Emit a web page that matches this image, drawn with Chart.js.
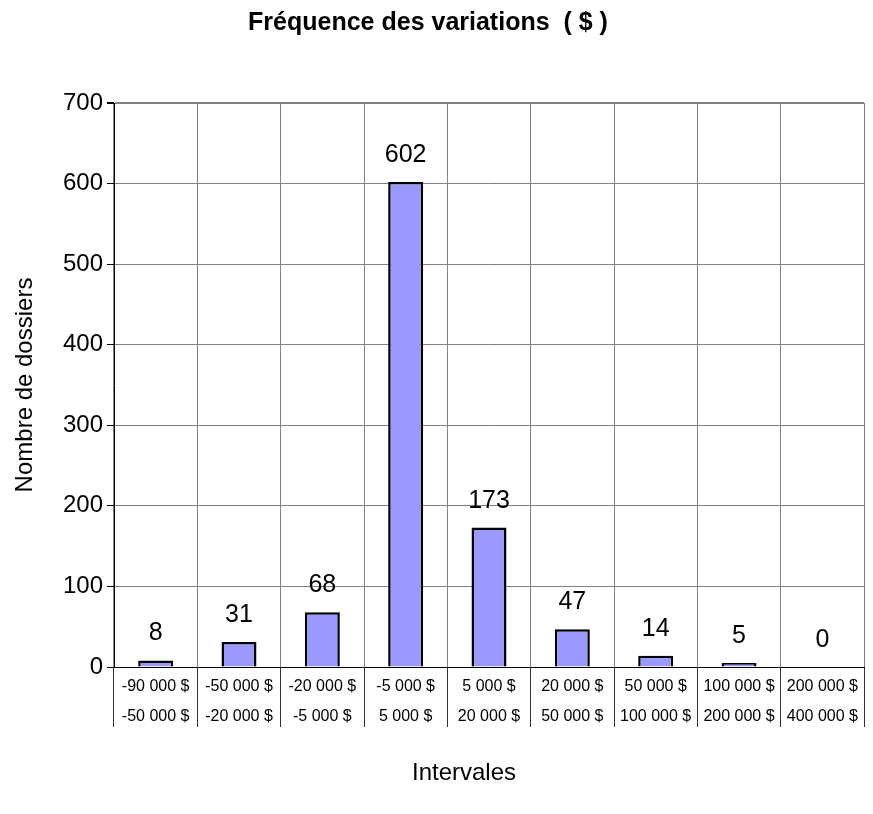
<!DOCTYPE html>
<html>
<head>
<meta charset="utf-8">
<script src="https://cdn.jsdelivr.net/npm/chart.js@4/dist/chart.umd.min.js"></script>
<style>
  html, body { margin: 0; padding: 0; background: #fff; }
  #wrap { width: 873px; height: 814px; }
</style>
</head>
<body>
<div id="wrap"><canvas id="myChart"></canvas></div>
<script>
// Intervalles (deux lignes par catégorie)
const intervalLow = ['-90 000 $', '-50 000 $', '-20 000 $', '-5 000 $', '5 000 $', '20 000 $', '50 000 $', '100 000 $', '200 000 $'];
const intervalHigh = ['-50 000 $', '-20 000 $', '-5 000 $', '5 000 $', '20 000 $', '50 000 $', '100 000 $', '200 000 $', '400 000 $'];
const nbDossiers = [8, 31, 68, 602, 173, 47, 14, 5, 0];
const yTicks = [0, 100, 200, 300, 400, 500, 600, 700];

const chartTitle = 'Fréquence des variations  ( $ )';
const yTitle = 'Nombre de dossiers';
const xTitle = 'Intervales';

const FONT = "'Liberation Sans', Arial, sans-serif";

const labels = intervalLow.map((lo, i) => [lo, intervalHigh[i]]);

// titres + valeurs au-dessus des barres
const extras = {
  id: 'extras',
  afterDraw(chart) {
    const ctx = chart.ctx;
    ctx.save();
    ctx.fillStyle = '#000';
    ctx.textAlign = 'center';
    ctx.textBaseline = 'middle';

    ctx.font = 'bold 25px ' + FONT;
    ctx.fillText(chartTitle, 428, 23);

    ctx.font = '24px ' + FONT;
    ctx.fillText(xTitle, 464, 773);

    ctx.save();
    ctx.translate(25, 385);
    ctx.rotate(-Math.PI / 2);
    ctx.fillText(yTitle, 0, 0);
    ctx.restore();

    ctx.font = '25px ' + FONT;
    const meta = chart.getDatasetMeta(0);
    meta.data.forEach((bar, i) => {
      ctx.fillText(String(nbDossiers[i]), bar.x, bar.y - 27);
    });
    ctx.restore();
  }
};

new Chart(document.getElementById('myChart'), {
  type: 'bar',
  data: {
    labels: labels,
    datasets: [{
      data: nbDossiers,
      backgroundColor: '#9999FF',
      borderColor: '#000',
      borderWidth: 2.5,
      barPercentage: 0.42,
      categoryPercentage: 1
    }]
  },
  options: {
    responsive: true,
    maintainAspectRatio: false,
    animation: false,
    layout: { padding: { top: 103, right: 9, left: 0, bottom: 0 } },
    plugins: {
      legend: { display: false },
      title: { display: false },
      tooltip: { enabled: false }
    },
    scales: {
      x: {
        offset: true,
        grid: {
          offset: true,
          color: '#808080',
          tickColor: '#333',
          tickLength: 60,
          lineWidth: (c) => (c.index === labels.length ? 3 : 1)
        },
        border: { color: '#000', width: 1 },
        ticks: {
          color: '#000',
          font: { family: FONT, size: 16, lineHeight: 1.875 },
          padding: -55,
          maxRotation: 0,
          autoSkip: false
        },
        afterFit(scale) { scale.height = 147; }
      },
      y: {
        min: 0,
        max: 700,
        afterBuildTicks(scale) { scale.ticks = yTicks.map(v => ({ value: v })); },
        grid: {
          color: '#808080',
          tickColor: '#000',
          tickLength: 7,
          lineWidth: (c) => (c.tick && c.tick.value === 700 ? 2 : 1)
        },
        border: { color: '#000', width: 1 },
        ticks: {
          color: '#000',
          font: { family: FONT, size: 24 },
          padding: 4
        },
        afterFit(scale) { scale.width = 114; }
      }
    }
  },
  plugins: [extras]
});
</script>
</body>
</html>
